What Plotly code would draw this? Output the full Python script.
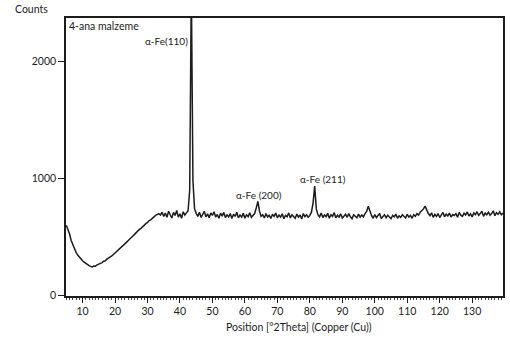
import plotly.graph_objects as go

# XRD pattern, sampled every 0.5 deg 2-theta starting at 5.0
start_2theta = 5.0
step_2theta = 0.5
counts = [
    600, 565, 525, 470, 430, 398, 368, 345, 326, 310,   # 5.0 - 9.5
    296, 284, 272, 262, 255, 248, 244, 252, 250, 262,   # 10 - 14.5
    266, 276, 280, 292, 296, 310, 318, 326, 338, 350,   # 15 - 19.5
    362, 374, 390, 402, 414, 430, 442, 454, 468, 484,   # 20 - 24.5
    496, 508, 522, 538, 548, 565, 574, 590, 600, 614,   # 25 - 29.5
    624, 640, 646, 662, 672, 684, 690, 700, 688, 712,   # 30 - 34.5
    676, 704, 668, 720, 690, 662, 710, 684, 726, 670,   # 35 - 39.5
    698, 660, 716, 688, 706, 724, 900, 2650, 980, 740,  # 40 - 44.5
    702, 676, 712, 668, 694, 720, 672, 698, 664, 706,   # 45 - 49.5
    684, 716, 670, 692, 660, 704, 678, 710, 666, 690,   # 50 - 54.5
    672, 700, 658, 694, 676, 712, 664, 688, 670, 702,   # 55 - 59.5
    660, 690, 674, 706, 668, 684, 700, 748, 805, 720,   # 60 - 64.5
    676, 690, 662, 700, 672, 686, 658, 694, 676, 704,   # 65 - 69.5
    664, 688, 670, 698, 656, 684, 672, 706, 662, 690,   # 70 - 74.5
    676, 660, 696, 670, 688, 654, 700, 674, 690, 668,   # 75 - 79.5
    684, 712, 790, 935, 740, 690, 672, 704, 666, 688,   # 80 - 84.5
    674, 702, 660, 690, 676, 708, 664, 686, 670, 698,   # 85 - 89.5
    662, 680, 694, 668, 700, 672, 656, 690, 678, 664,   # 90 - 94.5
    696, 670, 688, 672, 700, 718, 762, 720, 684, 660,   # 95 - 99.5
    692, 666, 680, 700, 658, 676, 690, 664, 686, 670,   # 100 - 104.5
    656, 684, 672, 696, 660, 680, 668, 690, 674, 662,   # 105 - 109.5
    694, 670, 684, 660, 690, 676, 700, 688, 712, 724,   # 110 - 114.5
    740, 764, 730, 700, 682, 706, 668, 694, 676, 700,   # 115 - 119.5
    666, 690, 710, 672, 696, 680, 704, 670, 692, 684,   # 120 - 124.5
    700, 668, 710, 686, 676, 702, 688, 714, 680, 698,   # 125 - 129.5
    672, 706, 690, 716, 684, 700, 720, 676, 704, 690,   # 130 - 134.5
    712, 686, 700, 724, 682, 708, 694, 716, 690, 704,   # 135 - 139.5
]
two_theta = [round(start_2theta + step_2theta * i, 2) for i in range(len(counts))]

x_ticks = [10, 20, 30, 40, 50, 60, 70, 80, 90, 100, 110, 120, 130]
y_ticks = [0, 1000, 2000]

peak_labels = ["α-Fe(110)", "α-Fe (200)", "α-Fe (211)"]
peak_label_x = [43.1, 64.4, 84.2]
peak_label_y = [2177, 862, 999]
peak_label_anchor = ["right", "center", "center"]

FONT = "Lato, Open Sans, sans-serif"

fig = go.Figure()
fig.add_trace(go.Scatter(
    x=two_theta, y=counts, mode="lines",
    line=dict(color="#1c1c1c", width=1.5),
    showlegend=False, hoverinfo="skip",
))

for txt, lx, ly, anc in zip(peak_labels, peak_label_x, peak_label_y, peak_label_anchor):
    fig.add_annotation(x=lx, y=ly, text=txt, showarrow=False,
                       xanchor=anc, yanchor="middle",
                       font=dict(size=10, color="#1c1c1c", family=FONT))

fig.add_annotation(x=5.3, y=2305, text="4-ana malzeme", showarrow=False,
                   xanchor="left", yanchor="middle",
                   font=dict(size=10.5, color="#1c1c1c", family=FONT))
fig.add_annotation(x=-0.121, y=1.032, xref="paper", yref="paper", text="Counts",
                   showarrow=False, xanchor="left", yanchor="middle",
                   font=dict(size=10.5, color="#1c1c1c", family=FONT))
fig.add_annotation(x=0.533, y=-0.113, xref="paper", yref="paper",
                   text="Position [°2Theta] (Copper (Cu))",
                   showarrow=False, xanchor="center", yanchor="middle",
                   font=dict(size=10.5, color="#1c1c1c", family=FONT))

fig.update_layout(
    width=510, height=341,
    margin=dict(l=66, r=5, t=18, b=45),
    paper_bgcolor="white", plot_bgcolor="white",
    font=dict(family=FONT, size=10.5, color="#1c1c1c"),
)
fig.update_xaxes(
    range=[4.9, 139.5], tickvals=x_ticks, ticks="outside", ticklen=5,
    tickwidth=1, tickcolor="#1c1c1c",
    showgrid=False, zeroline=False,
    showline=True, linecolor="#1c1c1c", linewidth=1.5, mirror=True,
    minor=dict(dtick=1, ticks="outside", ticklen=2, tickcolor="#444", tickwidth=1, showgrid=False),
    tickfont=dict(size=10.5, color="#1c1c1c"),
)
fig.update_yaxes(
    range=[-5, 2373], tickvals=y_ticks, ticks="outside", ticklen=6,
    tickwidth=1, tickcolor="#1c1c1c",
    showgrid=False, zeroline=False,
    showline=True, linecolor="#1c1c1c", linewidth=1.5, mirror=True,
    tickfont=dict(size=10.5, color="#1c1c1c"),
)

fig.write_html("out.html")
